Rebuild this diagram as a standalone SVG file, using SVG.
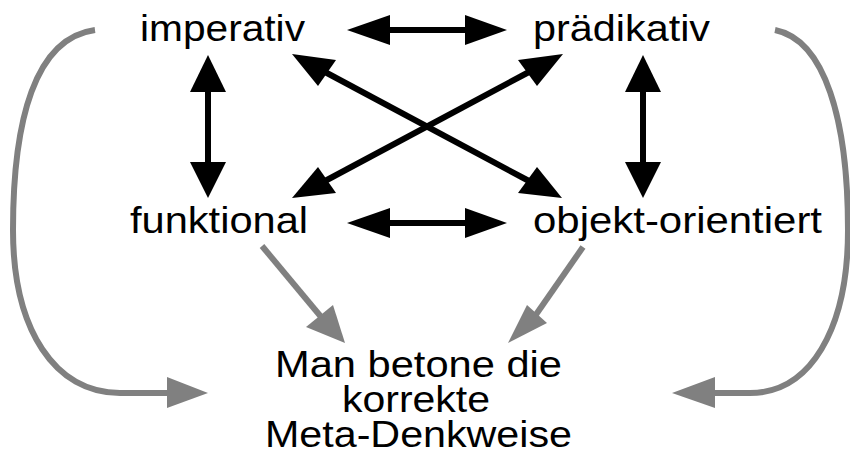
<svg xmlns="http://www.w3.org/2000/svg" width="850" height="463" viewBox="0 0 850 463">
  <style>
    .lbl { font-family: "Liberation Sans", Arial, sans-serif; font-size: 36px; fill: #000; }
    .blk { stroke: #000; stroke-width: 6; fill: none; }
    .blkh { fill: #000; }
    .gry { stroke: #808080; stroke-width: 6; fill: none; }
    .gryh { fill: #808080; }
  </style>
  <rect width="850" height="463" fill="#fff"/>

  <g id="connectors">
    <!-- imperativ <-> prädikativ -->
    <line class="blk" x1="388" y1="30" x2="467" y2="30"/>
    <polygon class="blkh" points="347,30 390,15 390,45"/>
    <polygon class="blkh" points="507,30 465,15 465,45"/>

    <!-- funktional <-> objekt-orientiert -->
    <line class="blk" x1="388" y1="223" x2="467" y2="223"/>
    <polygon class="blkh" points="347,223 390,208 390,238"/>
    <polygon class="blkh" points="507,223 465,208 465,238"/>

    <!-- imperativ <-> funktional -->
    <line class="blk" x1="208" y1="90" x2="208" y2="164"/>
    <polygon class="blkh" points="208,55 190,92 226,92"/>
    <polygon class="blkh" points="208,198 190,162 226,162"/>

    <!-- prädikativ <-> objekt-orientiert -->
    <line class="blk" x1="643" y1="90" x2="643" y2="164"/>
    <polygon class="blkh" points="643,55 625,92 661,92"/>
    <polygon class="blkh" points="643,198 625,162 661,162"/>

    <!-- imperativ <-> objekt-orientiert -->
    <line class="blk" x1="325" y1="72" x2="529" y2="181"/>
    <polygon class="blkh" points="292,54 336,60 318,86"/>
    <polygon class="blkh" points="562,198 537,167 518,193"/>

    <!-- funktional <-> prädikativ -->
    <line class="blk" x1="325" y1="181" x2="529" y2="72"/>
    <polygon class="blkh" points="292,198 318,167 336,193"/>
    <polygon class="blkh" points="563,54 518,60 537,86"/>

    <!-- funktional -> Denkweise -->
    <line class="gry" x1="262" y1="246" x2="322" y2="318"/>
    <polygon class="gryh" points="345,343 306,327 333,305"/>

    <!-- objekt-orientiert -> Denkweise -->
    <line class="gry" x1="583" y1="247" x2="535" y2="316"/>
    <polygon class="gryh" points="508,343 547,323 527,305"/>

    <!-- imperativ -> Denkweise (left arc) -->
    <path class="gry" d="M95,30 C35,38 13,120 13,230 C13,330 55,393 120,393 L170,393"/>
    <polygon class="gryh" points="208,393 167,377 167,408"/>

    <!-- prädikativ -> Denkweise (right arc) -->
    <path class="gry" d="M775,30 C825,40 848,120 848,230 C848,330 810,393 750,393 L712,393"/>
    <polygon class="gryh" points="672,393 715,377 715,408"/>
  </g>

  <g id="imperativ">
    <text class="lbl" x="140" y="41" textLength="165" lengthAdjust="spacingAndGlyphs">imperativ</text>
  </g>
  <g id="praedikativ">
    <text class="lbl" x="533" y="41" textLength="177" lengthAdjust="spacingAndGlyphs">prädikativ</text>
  </g>
  <g id="funktional">
    <text class="lbl" x="130" y="233" textLength="178" lengthAdjust="spacingAndGlyphs">funktional</text>
  </g>
  <g id="objekt-orientiert">
    <text class="lbl" x="533" y="233" textLength="289" lengthAdjust="spacingAndGlyphs">objekt-orientiert</text>
  </g>
  <g id="denkweise">
    <text class="lbl" x="275" y="377" textLength="287" lengthAdjust="spacingAndGlyphs">Man betone die</text>
    <text class="lbl" x="342" y="412" textLength="148" lengthAdjust="spacingAndGlyphs">korrekte</text>
    <text class="lbl" x="265" y="447" textLength="307" lengthAdjust="spacingAndGlyphs">Meta-Denkweise</text>
  </g>
</svg>
